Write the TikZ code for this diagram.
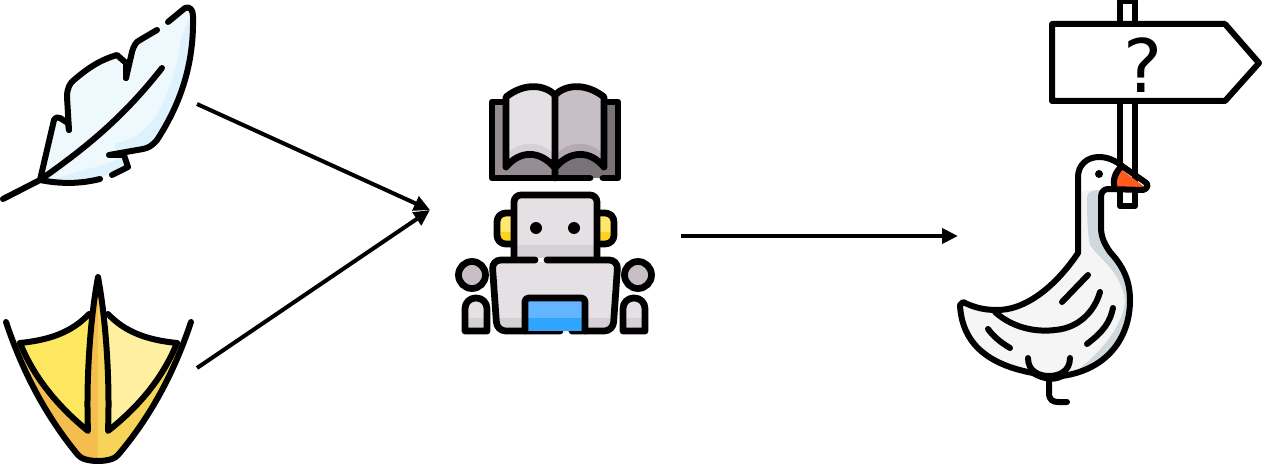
\documentclass[tikz,border=0pt]{standalone}
\usepackage{fontspec}
\setmainfont{DejaVu Sans}
\usetikzlibrary{arrows.meta}
\definecolor{featherpale}{HTML}{EFF8FD}
\definecolor{feathershade}{HTML}{DDF2FC}
\definecolor{footdark}{HTML}{F3BE4E}
\definecolor{footmid}{HTML}{F6D457}
\definecolor{webleft}{HTML}{FDE75E}
\definecolor{webright}{HTML}{FEF0A0}
\definecolor{robotpale}{HTML}{E5E0E4}
\definecolor{robotshade}{HTML}{D5D0D5}
\definecolor{pagedark}{HTML}{C7BEC6}
\definecolor{pageshade}{HTML}{B3AAB2}
\definecolor{coverleft}{HTML}{968D93}
\definecolor{coverright}{HTML}{7A7277}
\definecolor{earlight}{HTML}{FFE76F}
\definecolor{eardark}{HTML}{FFD21F}
\definecolor{screenlight}{HTML}{64B5FF}
\definecolor{screendark}{HTML}{2FA5FF}
\definecolor{goosebody}{HTML}{F5F5F5}
\definecolor{gooseshade}{HTML}{CFD8DC}
\definecolor{beakorange}{HTML}{FF5B1F}
\tikzset{
    ink/.style={draw=black, line width=0.12cm, line cap=round, line join=round},
    inkbold/.style={ink, line width=0.135cm},
    flow/.style={-{Triangle[length=0.32cm,width=0.3cm]}, line width=0.08cm},
}
\begin{document}
\begin{tikzpicture}[x=0.02cm, y=-0.02cm]
    \useasboundingbox (0,0) rectangle (1262,466);
    % feather
    \fill[featherpale] (40,180) -- (54,120) -- (68,123) -- (67,90) -- (117,55) -- (126,63) -- (138,41) -- (185,8)
        .. controls (192,8) and (193,13) .. (193,30) .. controls (193,70) and (183,100) .. (157,140)
        -- (147,148) -- (122,155) -- (128,167) -- (100,178) -- cycle;
    \fill[feathershade] (181,40) -- (190,15) -- (193,30) .. controls (193,70) and (183,100) .. (157,140) -- (147,148) -- (122,155)
        -- (128,167) -- (100,178) -- (50,180) -- (110,163) -- (120,158) -- (115,152) -- (115,143)
        .. controls (150,140) and (172,100) .. cycle;
    \draw[ink] (3,199) -- (40,180) -- (54,120) .. controls (56,117) and (58,117) .. (60,118) -- (68,123) -- (69,130);
    \draw[ink] (69,130) -- (67,97) .. controls (67,88) and (70,83) .. (74,80) .. controls (88,68) and (100,60) .. (117,55)
        -- (126,63) -- (126,78);
    \draw[ink] (126,78) -- (132,52) .. controls (134,45) and (136,42) .. (140,40) -- (157,30);
    \draw[ink] (168,22) -- (185,8) .. controls (190,6) and (193,10) .. (193,16) .. controls (194,60) and (183,100) .. (157,140)
        .. controls (152,146) and (148,148) .. (143,149) -- (109,155) -- (124,155) -- (128,167) -- (112,175);
    \draw[ink] (100,179) .. controls (80,184) and (60,184) .. (40,180);
    \draw[ink] (40,180) .. controls (90,145) and (125,115) .. (162,68);
    \coordinate (featherout) at (197,104);
    % duck foot
    \fill[footdark] (20,343) .. controls (35,380) and (60,408) .. (88,431) .. controls (86,380) and (90,320) .. (98,277)
        -- (98,461) .. controls (90,461) and (84,461) .. (78,455) .. controls (50,420) and (30,385) .. (14,343) -- cycle;
    \fill[footmid] (177,343) .. controls (162,380) and (137,408) .. (108,431) .. controls (110,380) and (106,320) .. (98,277)
        -- (98,461) .. controls (106,461) and (112,461) .. (118,455) .. controls (146,420) and (166,385) .. (183,343) -- cycle;
    \fill[webleft] (20,343) .. controls (50,340) and (72,332) .. (89,314) -- (88,431) .. controls (60,408) and (35,380) .. cycle;
    \fill[webright] (177,343) .. controls (147,340) and (125,332) .. (108,314) -- (108,431) .. controls (137,408) and (162,380) .. cycle;
    \draw[ink] (6,322) .. controls (22,370) and (45,415) .. (78,455) .. controls (84,463) and (112,463) .. (118,455)
        .. controls (152,415) and (175,370) .. (191,322);
    \draw[ink] (20,343) .. controls (50,340) and (72,332) .. (89,314);
    \draw[ink] (177,343) .. controls (147,340) and (125,332) .. (108,314);
    \draw[ink] (20,343) .. controls (35,380) and (60,408) .. (88,431) .. controls (86,380) and (90,320) .. (98,277)
        .. controls (106,320) and (110,380) .. (108,431) .. controls (137,408) and (162,380) .. (177,343);
    \coordinate (footout) at (197,368);
    % robot with book
    \fill[coverleft] (492,102) rectangle (555,178);
    \fill[coverright] (555,102) rectangle (618,178);
    \draw[inkbold] (506,102) -- (492,102) -- (492,178) -- (590,178);
    \draw[inkbold] (603,178) -- (618,178) -- (618,102) -- (604,102);
    \fill[robotpale] (506,97) .. controls (525,82) and (545,85) .. (555,95) -- (555,168) .. controls (540,150) and (520,150) .. (506,167) -- cycle;
    \fill[pagedark] (604,97) .. controls (585,82) and (565,85) .. (555,95) -- (555,168) .. controls (570,150) and (590,150) .. (604,167) -- cycle;
    \fill[robotshade] (506,155) .. controls (520,140) and (540,140) .. (555,155) -- (555,168) .. controls (540,150) and (520,150) .. (506,167) -- cycle;
    \fill[pageshade] (604,155) .. controls (590,140) and (570,140) .. (555,155) -- (555,168) .. controls (570,150) and (590,150) .. (604,167) -- cycle;
    \draw[inkbold] (555,95) .. controls (545,85) and (525,82) .. (506,97) -- (506,167) .. controls (520,150) and (540,150) .. (555,168)
        .. controls (570,150) and (590,150) .. (604,167) -- (604,97) .. controls (585,82) and (565,85) .. (555,95) -- (555,178);
    \fill[earlight] (500,216) rectangle (514,232);
    \fill[eardark] (500,232) rectangle (514,242);
    \fill[earlight] (597,216) rectangle (611,232);
    \fill[eardark] (597,232) rectangle (611,242);
    \draw[inkbold, rounded corners=5] (514,213) -- (497,213) -- (497,244) -- (514,244);
    \draw[inkbold, rounded corners=5] (597,213) -- (614,213) -- (614,244) -- (597,244);
    \fill[robotpale, rounded corners=4] (514,195) rectangle (597,258);
    \fill[robotshade] (517,245) rectangle (594,258);
    \draw[inkbold, rounded corners=4] (514,258) -- (514,195) -- (597,195) -- (597,258);
    \foreach \x in {536,574} {
        \fill (\x,228) circle (6);
    }
    \foreach \x/\armx in {472/476,638/634} {
        \fill[robotpale] (\armx-11,331) [rounded corners=6] -- (\armx-11,298) -- (\armx+11,298) [sharp corners] -- (\armx+11,331) -- cycle;
        \fill[robotshade] (\armx-10,318) rectangle (\armx+10,331);
        \draw[inkbold] (\armx-11,331) [rounded corners=6] -- (\armx-11,298) -- (\armx+11,298) [sharp corners] -- (\armx+11,331) -- cycle;
        \draw[inkbold, fill=pagedark] (\x,275) circle (13.5);
    }
    \fill[robotpale] (496,262) -- (614,262) -- (613,331) -- (497,331) -- cycle;
    \fill[robotshade] (496,318) rectangle (614,331);
    \draw[inkbold, rounded corners=5] (535,260) -- (492,260) -- (497,331) -- (560,331);
    \draw[inkbold, rounded corners=5] (547,260) -- (618,260) -- (613,331) -- (572,331);
    \fill[screenlight] (525,298) rectangle (585,318);
    \fill[screendark] (525,318) rectangle (585,331);
    \draw[inkbold, rounded corners=2] (525,331) -- (525,298) -- (585,298) -- (585,331);
    \coordinate (robotin) at (430,210);
    \coordinate (robotout) at (681,236);
    % sign post
    \draw[ink, fill=white] (1120,1) rectangle (1135,206);
    \draw[ink, fill=white] (1052,24) -- (1225,24) -- (1259,63) -- (1225,101) -- (1052,101) -- cycle;
    \node (signmark) at (1143,65) {\fontsize{42}{42}\selectfont ?};
    % goose
    \fill[goosebody] (1078,177) -- (1078,253) .. controls (1060,280) and (1030,310) .. (997,310) -- (960,305)
        .. controls (962,345) and (990,365) .. (1033,373) -- (1053,378) .. controls (1105,370) and (1130,340) .. (1130,300)
        .. controls (1130,277) and (1120,263) .. (1110,252) .. controls (1103,240) and (1101,232) .. (1101,227) -- (1101,197)
        -- (1103,190) -- (1120,166) -- (1099,157) -- cycle;
    \fill[white] (1078,177) .. controls (1078,165) and (1085,157) .. (1099,157) .. controls (1107,157) and (1115,160) .. (1122,166) -- (1112,190) -- (1085,190) -- (1078,195) -- cycle;
    \fill[gooseshade] (1087,197) .. controls (1088,190) and (1095,190) .. (1103,190) -- (1101,197) -- (1101,227)
        .. controls (1101,240) and (1105,248) .. (1110,252) .. controls (1120,263) and (1130,277) .. (1130,300)
        .. controls (1130,340) and (1105,370) .. (1075,372) .. controls (1105,350) and (1125,320) .. (1125,300)
        .. controls (1120,270) and (1100,260) .. (1090,245) .. controls (1088,235) and (1087,225) .. cycle;
    \fill[beakorange] (1116,188) .. controls (1116,180) and (1118,176) .. (1122,170) -- (1146,188) -- cycle;
    \draw[ink] (1078,177) -- (1078,253) .. controls (1060,280) and (1030,310) .. (997,310) .. controls (985,310) and (975,308) .. (963,302)
        -- (960,305) .. controls (962,345) and (990,365) .. (1033,373) .. controls (1045,380) and (1055,380) .. (1062,376)
        .. controls (1105,370) and (1130,340) .. (1130,300) .. controls (1130,277) and (1120,263) .. (1110,252)
        .. controls (1103,242) and (1101,235) .. (1101,227) -- (1101,197) .. controls (1101,192) and (1104,189) .. (1108,189)
        -- (1143,190) .. controls (1148,189) and (1149,184) .. (1145,182) -- (1122,166)
        .. controls (1116,161) and (1108,157) .. (1099,157) .. controls (1087,157) and (1078,165) .. cycle;
    \draw[ink] (1115,189) .. controls (1112,180) and (1115,172) .. (1122,166);
    \fill (1099,174) circle (4);
    \draw[ink] (995,312) .. controls (1015,330) and (1040,332) .. (1055,330) .. controls (1080,328) and (1095,310) .. (1100,292);
    \draw[ink] (1062,302) -- (1088,275);
    \draw[ink] (1113,308) .. controls (1110,322) and (1104,331) .. (1087,344);
    \draw[ink] (988,329) .. controls (993,336) and (1000,342) .. (1010,348);
    \draw[ink] (1028,358) .. controls (1028,372) and (1040,376) .. (1049,376) .. controls (1058,376) and (1070,372) .. (1070,358);
    \draw[ink] (1049,378) -- (1049,393) .. controls (1049,400) and (1053,402) .. (1058,402) -- (1067,402);
    \coordinate (goosein) at (958,236);
    % arrows
    \draw[flow] (featherout) -- (robotin);
    \draw[flow] (footout) -- (robotin);
    \draw[flow] (robotout) -- (goosein);
\end{tikzpicture}
\end{document}
